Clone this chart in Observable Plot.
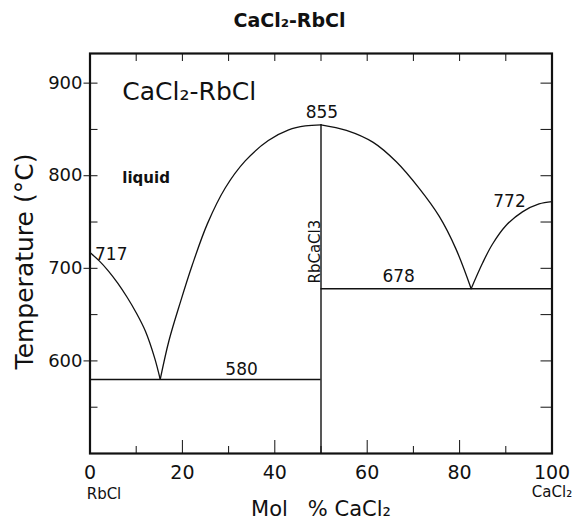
<!DOCTYPE html>
<html><head><meta charset="utf-8">
<script src="https://cdn.jsdelivr.net/npm/d3@7"></script>
<script src="https://cdn.jsdelivr.net/npm/@observablehq/plot@0.6"></script>
<style>
body{margin:0;background:#fff;}
#title{width:579px;height:40px;line-height:40px;text-align:center;font-family:"DejaVu Sans",sans-serif;font-weight:bold;font-size:19px;color:#111;}
</style></head><body>
<div id="title">CaCl₂-RbCl</div>
<div id="chart"></div>
<script>
// Liquidus branches (mol % CaCl2, temperature °C)
const rbclX = [0, 2, 4, 6, 8, 10, 12, 14, 15.2];
const rbclT = [717, 708, 697, 684, 669, 652, 632, 603, 580];
const cmpLeftX = [15.2, 17.1, 19.6, 22.1, 25.4, 29.3, 33.6, 38.6, 43, 46.6, 50];
const cmpLeftT = [580, 622, 664, 703, 748, 787, 816, 838, 849.5, 853.8, 855];
const cmpRightX = [50, 55.5, 61.3, 66.3, 71.3, 75.6, 79.2, 82.5];
const cmpRightT = [855, 849, 836, 815, 786, 756, 721, 678];
const cacl2X = [82.5, 85, 87.1, 90, 93.6, 97.2, 100];
const cacl2T = [678, 706, 726, 746, 761, 769.5, 772];

// invariant lines
const compoundX = 50, compoundT = 855;
const eutectic1 = {x1: 0, x2: 50, t: 580};
const eutectic2 = {x1: 50, x2: 100, t: 678};

// ticks
const yMajor = [600, 700, 800, 900];
const yMinor = [550, 650, 750, 850];
const yRight = [550, 600, 650, 700, 750, 800, 850, 900];
const xLabels = [0, 20, 40, 60, 80, 100];
const xMajor = [20, 40, 60, 80];
const xMinor = [10, 30, 50, 70, 90];
const xTop = [10, 20, 30, 40, 50, 60, 70, 80, 90];

// annotations (label centre in data units)
const noteText = ["717", "855", "580", "678", "772"];
const noteX = [4.6, 50.2, 32.8, 66.8, 90.8];
const noteT = [709, 862, 585, 685, 766];

const branches = [
  ...rbclX.map((x, i) => ({b: "RbCl", x, t: rbclT[i]})),
  ...cmpLeftX.map((x, i) => ({b: "cmpL", x, t: cmpLeftT[i]})),
  ...cmpRightX.map((x, i) => ({b: "cmpR", x, t: cmpRightT[i]})),
  ...cacl2X.map((x, i) => ({b: "CaCl2", x, t: cacl2T[i]}))
];
const notes = noteText.map((s, i) => ({s, x: noteX[i], t: noteT[i]}));

const ink = "#111";
const tickOpts = {stroke: ink, tickFormat: () => "", label: null};

const chart = Plot.plot({
  width: 579,
  height: 480,
  marginTop: 13,
  marginBottom: 67,
  marginLeft: 89.5,
  marginRight: 27.5,
  style: {fontFamily: "DejaVu Sans, sans-serif", color: ink, background: "#fff"},
  x: {domain: [0, 100]},
  y: {domain: [500, 932]},
  marks: [
    Plot.line(branches, {x: "x", y: "t", z: "b", curve: "catmull-rom", stroke: ink, strokeWidth: 1.3}),
    Plot.ruleX([compoundX], {y1: 500, y2: compoundT, stroke: ink, strokeWidth: 1.4}),
    Plot.ruleY([eutectic1], {y: "t", x1: "x1", x2: "x2", stroke: ink, strokeWidth: 1.4}),
    Plot.ruleY([eutectic2], {y: "t", x1: "x1", x2: "x2", stroke: ink, strokeWidth: 1.4}),
    Plot.frame({stroke: ink, strokeWidth: 2.2}),
    // left axis: major ticks cross the frame
    Plot.axisY(yMajor, {anchor: "left", tickSize: 14, dx: 8, tickPadding: 1.5, fontSize: 18, stroke: ink, label: null}),
    Plot.axisY(yMinor, {anchor: "left", tickSize: 8, dx: 8, ...tickOpts}),
    Plot.axisY(yRight, {anchor: "right", tickSize: 12, dx: -12, ...tickOpts}),
    Plot.axisX(xMajor, {anchor: "bottom", tickSize: 13, dy: -13, ...tickOpts}),
    Plot.axisX(xMinor, {anchor: "bottom", tickSize: 7, dy: -7, ...tickOpts}),
    Plot.axisX(xTop, {anchor: "top", tickSize: 7, dy: 7, ...tickOpts}),
    Plot.axisX(xLabels, {anchor: "bottom", tickSize: 0, tickPadding: 12, fontSize: 19, label: null}),
    // annotations
    Plot.text(notes, {x: "x", y: "t", text: "s", textAnchor: "middle", lineAnchor: "bottom", fontSize: 17, fill: ink}),
    Plot.text(["CaCl₂-RbCl"], {x: 7, y: 882, textAnchor: "start", lineAnchor: "bottom", fontSize: 25, fill: ink}),
    Plot.text(["liquid"], {x: 7, y: 792, textAnchor: "start", lineAnchor: "bottom", fontSize: 15, fontWeight: "bold", fill: ink}),
    Plot.text(["RbCaCl3"], {x: compoundX, y: 718, rotate: -90, textAnchor: "middle", lineAnchor: "bottom", dx: -1, fontSize: 15, fill: ink}),
    // axis titles and end-member names
    Plot.text(["RbCl"], {x: 0, frameAnchor: "bottom", textAnchor: "middle", dx: 14, dy: 45, lineAnchor: "bottom", fontSize: 15, fill: ink}),
    Plot.text(["CaCl₂"], {x: 100, frameAnchor: "bottom", textAnchor: "middle", dy: 43, lineAnchor: "bottom", fontSize: 15, fill: ink}),
    Plot.text(["Mol\u00a0\u00a0\u00a0% CaCl₂"], {frameAnchor: "bottom", textAnchor: "middle", dy: 62, lineAnchor: "bottom", fontSize: 21, fill: ink}),
    Plot.text(["Temperature (°C)"], {frameAnchor: "left", textAnchor: "middle", lineAnchor: "middle", rotate: -90, dx: -65, dy: 8, fontSize: 25, fill: ink})
  ]
});
document.getElementById("chart").appendChild(chart);
</script>
</body></html>
